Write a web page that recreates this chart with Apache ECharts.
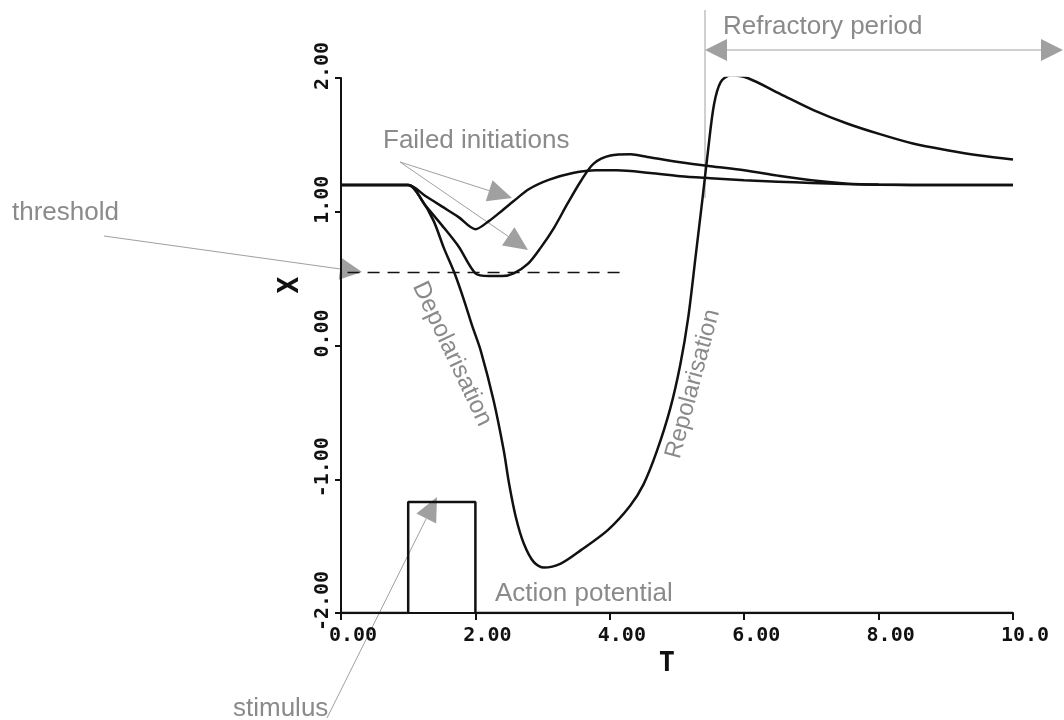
<!DOCTYPE html>
<html><head><meta charset="utf-8">
<script src="https://cdn.jsdelivr.net/npm/echarts/dist/echarts.min.js"></script>
<style>html,body{margin:0;padding:0;background:#fff}#c{width:1064px;height:720px}</style>
</head><body><div id="c"></div>
<script>
// ---- data ----
const xTickLabels = ['0.00', '2.00', '4.00', '6.00', '8.00', '10.0'];
const yTickLabels = ['-2.00', '-1.00', '0.00', '1.00', '2.00'];
const thresholdValue = 0.545;
const thresholdSpan = [-0.2, 4.2];
const stimulus = [[0, -2], [1, -2], [1, -1.17], [2, -1.17], [2, -2], [10, -2]];
const failedUpper = [[0, 1.2], [1, 1.2], [1.25, 1.12], [1.5, 1.04], [1.75, 0.96], [2.0, 0.87],
  [2.2, 0.93], [2.4, 1.01], [2.57, 1.08], [2.8, 1.17], [3.1, 1.24], [3.45, 1.29], [3.8, 1.31],
  [4.1, 1.31], [4.6, 1.29], [5.05, 1.265], [5.5, 1.25], [6.0, 1.235], [6.5, 1.225], [7.0, 1.215],
  [7.5, 1.207], [8.0, 1.202], [9.0, 1.2], [10, 1.2]];
const failedLower = [[0, 1.2], [1, 1.2], [1.25, 1.05], [1.5, 0.9], [1.75, 0.74], [2.0, 0.54],
  [2.2, 0.52], [2.4, 0.52], [2.57, 0.54], [2.78, 0.61], [2.97, 0.73], [3.17, 0.88], [3.37, 1.06],
  [3.57, 1.23], [3.76, 1.36], [4.01, 1.42], [4.31, 1.43], [4.56, 1.41], [5.05, 1.37], [5.5, 1.34],
  [6.0, 1.31], [6.5, 1.27], [7.0, 1.235], [7.5, 1.212], [8.0, 1.203], [9.0, 1.2], [10, 1.2]];
const actionPotential = [[0, 1.2], [1, 1.2], [1.2, 1.09], [1.38, 0.93], [1.53, 0.73], [1.69, 0.54],
  [1.83, 0.34], [1.95, 0.15], [2.08, -0.04], [2.27, -0.41], [2.42, -0.78], [2.5, -1.03],
  [2.6, -1.28], [2.72, -1.48], [2.87, -1.62], [3.02, -1.66], [3.27, -1.63], [3.57, -1.53],
  [3.97, -1.38], [4.3, -1.2], [4.5, -1.04], [4.7, -0.79], [4.9, -0.47], [5.05, -0.14],
  [5.17, 0.22], [5.28, 0.68], [5.38, 1.1], [5.46, 1.45], [5.55, 1.8], [5.65, 1.97], [5.8, 2.02],
  [6.05, 2.0], [6.54, 1.88], [7.03, 1.76], [7.53, 1.66], [8.02, 1.58], [8.51, 1.51],
  [9.02, 1.46], [9.51, 1.42], [10, 1.39]];

// ---- chart ----
const chart = echarts.init(document.getElementById('c'), null, {renderer: 'canvas'});
const ink = '#111';
const note = '#8a8a8a';
const arrowCol = '#a0a0a0';
const tickFont = {fontFamily: 'DejaVu Sans Mono', fontWeight: 'bold', fontSize: 20, color: ink};

function arrow(x1, y1, x2, y2, len, hw) {
  const dx = x2 - x1, dy = y2 - y1, L = Math.hypot(dx, dy);
  const ux = dx / L, uy = dy / L, nx = -uy, ny = ux;
  const bx = x2 - ux * len, by = y2 - uy * len;
  return [
    {type: 'line', silent: true, shape: {x1, y1, x2: bx, y2: by}, style: {stroke: arrowCol, lineWidth: 1}},
    {type: 'polygon', silent: true, shape: {points: [[x2, y2], [bx + nx * hw, by + ny * hw], [bx - nx * hw, by - ny * hw]]}, style: {fill: arrowCol}}
  ];
}
function label(text, x, y, rot, size) {
  return {type: 'text', silent: true, x, y, rotation: (rot || 0) * Math.PI / 180,
    style: {text, fontFamily: 'Liberation Sans', fontSize: size || 26, fill: note,
      align: rot ? 'center' : 'left', verticalAlign: 'middle'}};
}

const graphics = [].concat(
  [{type: 'line', silent: true, shape: {x1: 705, y1: 10, x2: 705, y2: 198}, style: {stroke: arrowCol, lineWidth: 1}}],
  arrow(884, 50, 705, 50, 22, 11),
  arrow(884, 50, 1063, 50, 22, 11),
  arrow(400, 162, 512, 198, 24, 11),
  arrow(400, 162, 528, 250, 24, 11),
  arrow(104, 236, 362, 272, 22, 11),
  arrow(327, 718, 437, 497, 24, 11),
  [
    label('Refractory period', 723, 27),
    label('Failed initiations', 383, 141),
    label('threshold', 12, 213),
    label('stimulus', 233, 709),
    label('Action potential', 495, 594),
    label('Depolarisation', 452, 354, -64.7, 24.5),
    label('Repolarisation', 693, 384, 75, 24)
  ]
);

const curve = (name, data) => ({
  name, type: 'line', data, showSymbol: false, symbol: 'none', smooth: 0.3,
  lineStyle: {color: ink, width: 2.5}, z: 3
});

chart.setOption({
  animation: false,
  backgroundColor: '#fff',
  grid: {left: 341, right: 51, top: 78, bottom: 107, containLabel: false},
  xAxis: {
    type: 'value', min: 0, max: 10, interval: 2,
    name: 'T', nameLocation: 'middle', nameGap: 28,
    nameTextStyle: {fontFamily: 'DejaVu Sans Mono', fontWeight: 'bold', fontSize: 27, color: ink, padding: [0, 20, 0, 0]},
    axisLine: {onZero: false, lineStyle: {color: ink, width: 2}},
    axisTick: {length: 7, lineStyle: {color: ink, width: 2}},
    axisLabel: Object.assign({margin: 13, formatter: v => '  ' + xTickLabels[Math.round(v / 2)]}, tickFont),
    splitLine: {show: false}
  },
  yAxis: {
    type: 'value', min: -2, max: 2, interval: 1,
    name: 'X', nameLocation: 'middle', nameGap: 21, nameRotate: 90,
    nameTextStyle: {fontFamily: 'DejaVu Sans Mono', fontWeight: 'bold', fontSize: 28, color: ink, align: 'left', padding: [0, 0, 0, 52]},
    axisLine: {onZero: false, lineStyle: {color: ink, width: 2}},
    axisTick: {length: 6, lineStyle: {color: ink, width: 2}},
    axisLabel: Object.assign({margin: 8, rotate: 90, formatter: v => '  ' + yTickLabels[Math.round(v + 2)]}, tickFont),
    splitLine: {show: false}
  },
  series: [
    {name: 'threshold', type: 'line', data: thresholdSpan.map(t => [t, thresholdValue]), showSymbol: false, symbol: 'none',
      clip: false, lineStyle: {color: ink, width: 1.5, type: [12, 8]}, z: 2},
    {name: 'stimulus', type: 'line', data: stimulus, showSymbol: false, symbol: 'none',
      lineStyle: {color: ink, width: 2.5}, z: 3},
    curve('failed 1', failedUpper),
    curve('failed 2', failedLower),
    curve('action potential', actionPotential)
  ],
  graphic: graphics
});
</script>
</body></html>
